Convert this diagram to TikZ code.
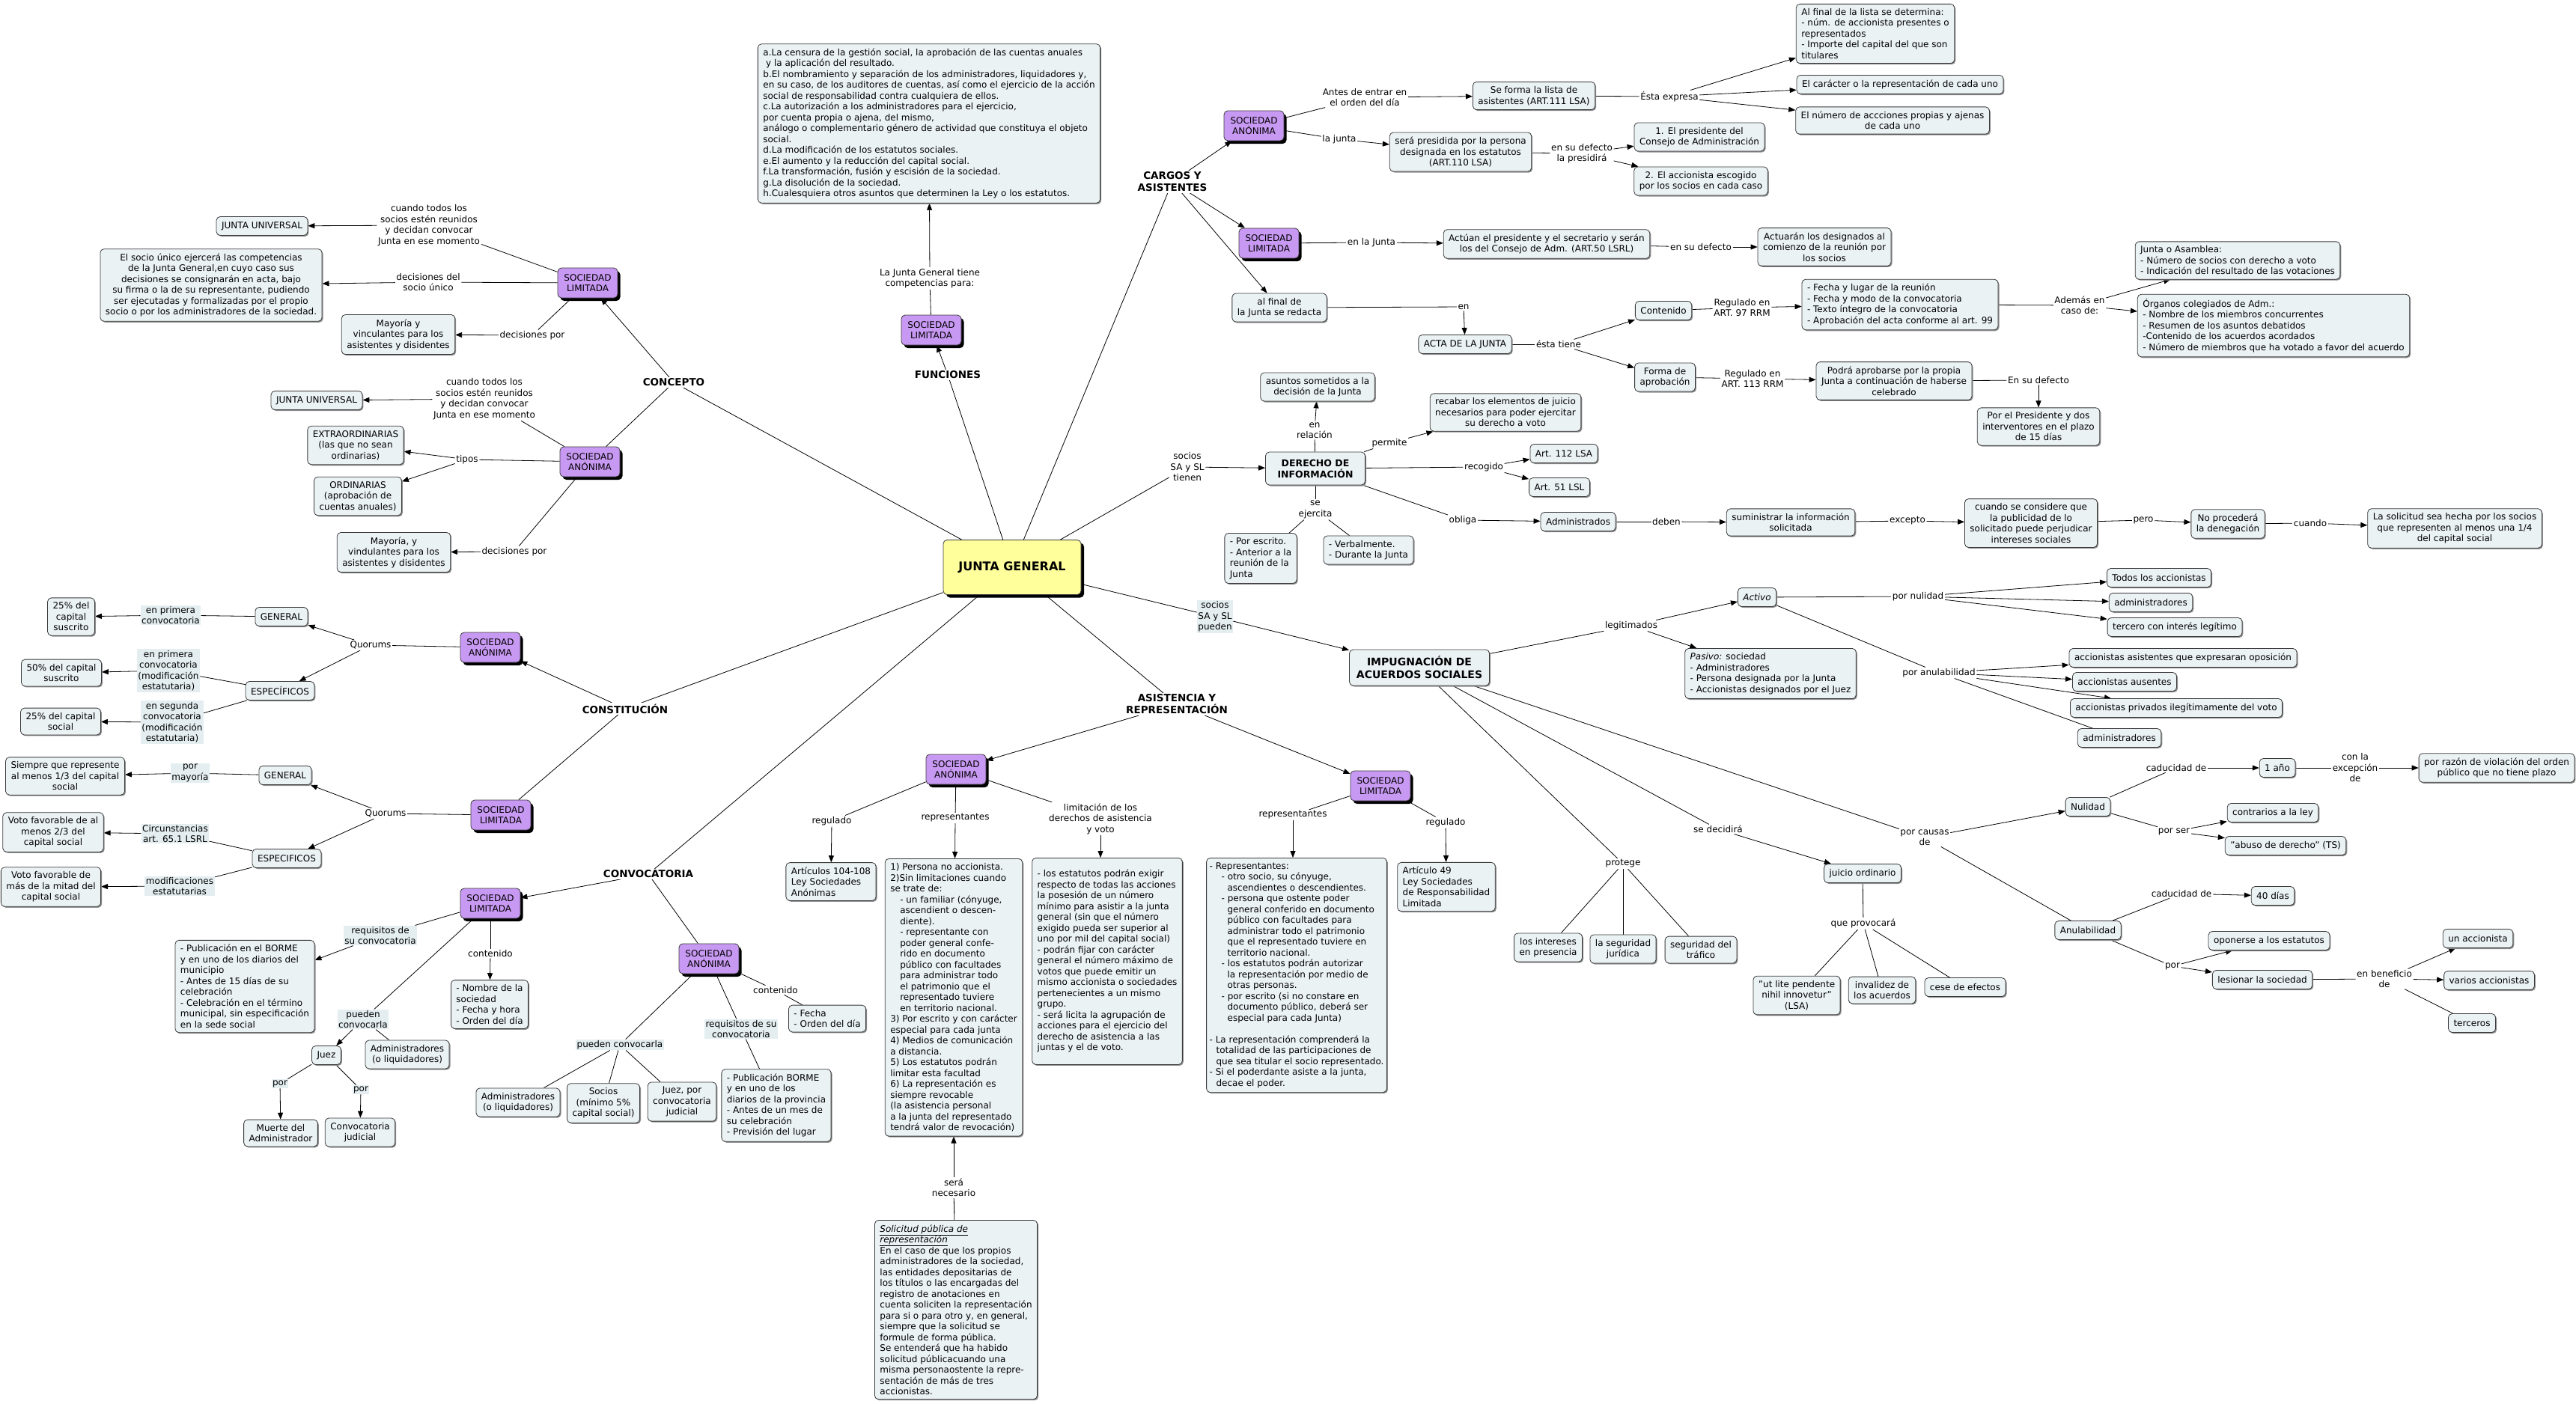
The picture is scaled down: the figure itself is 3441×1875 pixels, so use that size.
\documentclass[tikz,border=0pt]{standalone}
\usepackage{fontspec}
\setmainfont{DejaVu Sans}
\usepackage{tikz}
\usetikzlibrary{arrows.meta, shadows, backgrounds, positioning}
\definecolor{cajafondo}{HTML}{EBF2F4}
\definecolor{lila}{HTML}{C899F2}
\definecolor{amarillo}{HTML}{FFFF9C}
\definecolor{enlacefondo}{HTML}{E4EEF1}
\definecolor{borde}{HTML}{3A3A3A}
\newcommand{\sangria}[1]{\hspace*{#1pt}}
\tikzset{
	texto/.style={font=\fontsize{12}{14.5}\selectfont}
}
\tikzset{
	cajabase/.style={texto, draw=borde, line width=0.8pt, fill=cajafondo, rounded corners=5pt,
		align=center, inner xsep=7pt, inner ysep=6pt, minimum height=25pt},
	caja/.style={cajabase, drop shadow={shadow xshift=1.5pt, shadow yshift=-1.5pt, fill=black!45, opacity=1}},
	cajaizq/.style={caja, align=left},
	sociedad/.style={cajabase, fill=lila, minimum width=80pt, minimum height=40pt,
		drop shadow={shadow xshift=3.5pt, shadow yshift=-4pt, fill=black, opacity=1}},
	junta/.style={cajabase, fill=amarillo, font=\fontsize{16}{19}\selectfont\bfseries,
		minimum width=184pt, minimum height=73pt,
		drop shadow={shadow xshift=4pt, shadow yshift=-4pt, fill=black, opacity=1}}
}
\tikzset{
	enlace/.style={texto, align=center, fill=white, inner sep=1.5pt},
	enlaceazul/.style={enlace, fill=enlacefondo},
	rama/.style={font=\fontsize{13.5}{16}\selectfont\bfseries, align=center, fill=white, inner sep=1.5pt},
	linea/.style={line width=0.8pt, draw=black},
	flecha/.style={linea, -{Triangle[length=9pt, width=7pt]}}
}

\begin{document}
\begin{tikzpicture}[x=1pt, y=-1pt]
\useasboundingbox (0,0) rectangle (3441,1875);

\node[junta] (jg) at (1352,758) {JUNTA GENERAL};

% concepto
\node[rama] (conc) at (900,511) {CONCEPTO};
\node[sociedad] (slc) at (785,378) {SOCIEDAD\\LIMITADA};
\node[sociedad] (sac) at (788,617) {SOCIEDAD\\ANÓNIMA};
\node[enlace] (esl1) at (573,301) {cuando todos los\\socios estén reunidos\\y decidan convocar\\Junta en ese momento};
\node[caja] (ju1) at (350,302) {JUNTA UNIVERSAL};
\node[enlace] (esl2) at (572,377) {decisiones del\\socio único};
\node[caja] (socu) at (282,381) {El socio único ejercerá las competencias\\de la Junta General,en cuyo caso sus\\decisiones se consignarán en acta, bajo\\su firma o la de su representante, pudiendo\\ser ejecutadas y formalizadas por el propio\\socio o por los administradores de la sociedad.};
\node[enlace] (esl3) at (711,448) {decisiones por};
\node[caja] (may1) at (532,447) {Mayoría y\\vinculantes para los\\asistentes y disidentes};
\node[enlace] (esa1) at (647,533) {cuando todos los\\socios estén reunidos\\y decidan convocar\\Junta en ese momento};
\node[caja] (ju2) at (423,535) {JUNTA UNIVERSAL};
\node[enlace] (esa2) at (624,614) {tipos};
\node[caja] (extra) at (475,595) {EXTRAORDINARIAS\\(las que no sean\\ordinarias)};
\node[caja] (ordi) at (478,663) {ORDINARIAS\\(aprobación de\\cuentas anuales)};
\node[enlace] (esa3) at (687,737) {decisiones por};
\node[caja] (may2) at (526,738) {Mayoría, y\\vindulantes para los\\asistentes y disidentes};

% funciones
\node[rama] (fun) at (1266,501) {FUNCIONES};
\node[sociedad] (slf) at (1244,441) {SOCIEDAD\\LIMITADA};
\node[enlace] (efun) at (1242,372) {La Junta General tiene\\competencias para:};
\node[cajaizq] (funbox) at (1241,165) {a.La censura de la gestión social, la aprobación de las cuentas anuales\\\ y la aplicación del resultado.\\b.El nombramiento y separación de los administradores, liquidadores y,\\en su caso, de los auditores de cuentas, así como el ejercicio de la acción\\social de responsabilidad contra cualquiera de ellos.\\c.La autorización a los administradores para el ejercicio,\\por cuenta propia o ajena, del mismo,\\análogo o complementario género de actividad que constituya el objeto\\social.\\d.La modificación de los estatutos sociales.\\e.El aumento y la reducción del capital social.\\f.La transformación, fusión y escisión de la sociedad.\\g.La disolución de la sociedad.\\h.Cualesquiera otros asuntos que determinen la Ley o los estatutos.};

% cargos y asistentes
\node[rama] (carg) at (1566,243) {CARGOS Y\\ASISTENTES};
\node[sociedad] (sag) at (1675,168) {SOCIEDAD\\ANÓNIMA};
\node[sociedad] (slg) at (1695,325) {SOCIEDAD\\LIMITADA};
\node[caja] (alfin) at (1709,411) {al final de\\la Junta se redacta};
\node[enlace] (eant) at (1823,130) {Antes de entrar en\\el orden del día};
\node[caja] (lista) at (2049,128) {Se forma la lista de\\asistentes (ART.111 LSA)};
\node[enlace] (eexp) at (2230,129) {Ésta expresa};
\node[cajaizq] (alf) at (2505,45) {Al final de la lista se determina:\\- núm. de accionista presentes o\\representados\\- Importe del capital del que son\\titulares};
\node[caja] (carac) at (2538,113) {El carácter o la representación de cada uno};
\node[caja] (numac) at (2528,161) {El número de accciones propias y ajenas\\de cada uno};
\node[enlace] (elj) at (1789,186) {la junta};
\node[caja] (presi) at (1951,203) {será presidida por la persona\\designada en los estatutos\\(ART.110 LSA)};
\node[enlace] (edef) at (2113,205) {en su defecto\\la presidirá};
\node[caja] (pres1) at (2270,183) {1. El presidente del\\Consejo de Administración};
\node[caja] (pres2) at (2272,242) {2. El accionista escogido\\por los socios en cada caso};
\node[enlace] (eenj) at (1832,324) {en la Junta};
\node[caja] (actuan) at (2066,326) {Actúan el presidente y el secretario y serán\\los del Consejo de Adm. (ART.50 LSRL)};
\node[enlace] (edef2) at (2272,330) {en su defecto};
\node[caja] (actuar) at (2437,330) {Actuarán los designados al\\comienzo de la reunión por\\los socios};
\node[enlace] (een) at (1955,410) {en};
\node[caja] (acta) at (1957,460) {ACTA DE LA JUNTA};
\node[enlace] (etiene) at (2082,460) {ésta tiene};
\node[caja] (cont) at (2222,415) {Contenido};
\node[enlace] (er97) at (2327,411) {Regulado en\\ART. 97 RRM};
\node[cajaizq] (fecha) at (2538,407) {- Fecha y lugar de la reunión\\- Fecha y modo de la convocatoria\\- Texto íntegro de la convocatoria\\- Aprobación del acta conforme al art. 99};
\node[enlace] (eade) at (2778,408) {Además en\\caso de:};
\node[cajaizq] (jasam) at (2989,348) {Junta o Asamblea:\\- Número de socios con derecho a voto\\- Indicación del resultado de las votaciones};
\node[cajaizq] (organ) at (3037,435) {Órganos colegiados de Adm.:\\- Nombre de los miembros concurrentes\\- Resumen de los asuntos debatidos\\-Contenido de los acuerdos acordados\\- Número de miembros que ha votado a favor del acuerdo};
\node[caja] (forma) at (2224,504) {Forma de\\aprobación};
\node[enlace] (er113) at (2341,506) {Regulado en\\ART. 113 RRM};
\node[caja] (podra) at (2530,509) {Podrá aprobarse por la propia\\Junta a continuación de haberse\\celebrado};
\node[enlace] (eensu) at (2723,508) {En su defecto};
\node[caja] (porpres) at (2723,570) {Por el Presidente y dos\\interventores en el plazo\\de 15 días};

% derecho de informacion
\node[enlace] (etien) at (1586,624) {socios\\SA y SL\\tienen};
\node[caja, font=\fontsize{12.5}{15}\selectfont\bfseries, minimum width=133pt, minimum height=44pt] (der) at (1757,626) {DERECHO DE\\INFORMACIÓN};
\node[enlace] (erel) at (1756,575) {en\\relación};
\node[caja] (asun) at (1760,517) {asuntos sometidos a la\\decisión de la Junta};
\node[enlace] (eperm) at (1856,592) {permite};
\node[caja] (recab) at (2011,551) {recabar los elementos de juicio\\necesarios para poder ejercitar\\su derecho a voto};
\node[enlace] (erec) at (1982,624) {recogido};
\node[caja] (a112) at (2089,606) {Art. 112 LSA};
\node[caja] (a51) at (2083,651) {Art. 51 LSL};
\node[enlace] (eejer) at (1757,681) {se\\ejercita};
\node[cajaizq] (escr) at (1684,746) {- Por escrito.\\- Anterior a la\\reunión de la\\Junta};
\node[cajaizq] (verb) at (1828,735) {- Verbalmente.\\- Durante la Junta};
\node[enlace] (eobl) at (1954,695) {obliga};
\node[caja] (admd) at (2108,697) {Administrados};
\node[enlace] (edeb) at (2226,697) {deben};
\node[caja] (sumi) at (2392,698) {suministrar la información\\solicitada};
\node[enlace] (eexc) at (2548,696) {excepto};
\node[caja] (cuan) at (2713,699) {cuando se considere que\\la publicidad de lo\\solicitado puede perjudicar\\intereses sociales};
\node[enlace] (epero) at (2863,695) {pero};
\node[caja] (noproc) at (2976,700) {No procederá\\la denegación};
\node[enlace] (ecuan) at (3086,699) {cuando};
\node[caja] (solic) at (3279,706) {La solicitud sea hecha por los socios\\que representen al menos una 1/4\\del capital social};

% impugnacion
\node[enlaceazul] (epued) at (1623,824) {socios\\SA y SL\\pueden};
\node[caja, font=\fontsize{14}{17}\selectfont\bfseries, minimum width=187pt, minimum height=48pt] (imp) at (1896,892) {IMPUGNACIÓN DE\\ACUERDOS SOCIALES};
\node[enlace] (eleg) at (2179,836) {legitimados};
\node[caja] (act) at (2347,798) {\textit{Activo}};
\node[cajaizq] (pas) at (2365,900) {\textit{Pasivo:} sociedad\\- Administradores\\- Persona designada por la Junta\\- Accionistas designados por el Juez};
\node[enlace] (enul) at (2562,797) {por nulidad};
\node[caja] (tod) at (2884,772) {Todos los accionistas};
\node[caja] (adm1) at (2873,805) {administradores};
\node[caja] (terc) at (2905,838) {tercero con interés legítimo};
\node[enlace] (eanu) at (2590,899) {por anulabilidad};
\node[caja] (asis) at (2916,879) {accionistas asistentes que expresaran oposición};
\node[caja] (ause) at (2838,911) {accionistas ausentes};
\node[caja] (priv) at (2907,946) {accionistas privados ilegítimamente del voto};
\node[caja] (adm2) at (2831,986) {administradores};
\node[enlace] (eprot) at (2168,1154) {protege};
\node[caja] (int) at (2068,1266) {los intereses\\en presencia};
\node[caja] (segj) at (2168,1268) {la seguridad\\jurídica};
\node[caja] (segt) at (2272,1269) {seguridad del\\tráfico};
\node[enlace] (edec) at (2295,1108) {se decidirá};
\node[caja] (juic) at (2488,1167) {juicio ordinario};
\node[enlace] (eprov) at (2489,1234) {que provocará};
\node[caja] (utl) at (2400,1330) {"ut lite pendente\\nihil innovetur"\\(LSA)};
\node[caja] (inv) at (2514,1323) {invalidez de\\los acuerdos};
\node[caja] (cese) at (2625,1319) {cese de efectos};
\node[enlace] (ecaus) at (2571,1119) {por causas\\de};
\node[caja] (nul) at (2789,1078) {Nulidad};
\node[enlace] (ecad1) at (2907,1026) {caducidad de};
\node[caja] (uno) at (3042,1026) {1 año};
\node[enlace] (eexc2) at (3146,1026) {con la\\excepción\\de};
\node[caja] (razon) at (3335,1026) {por razón de violación del orden\\público que no tiene plazo};
\node[enlace] (eser) at (2904,1111) {por ser};
\node[caja] (contr) at (3036,1086) {contrarios a la ley};
\node[caja] (abuso) at (3053,1130) {"abuso de derecho" (TS)};
\node[caja] (anu) at (2789,1243) {Anulabilidad};
\node[enlace] (ecad2) at (2914,1194) {caducidad de};
\node[caja] (cuar) at (3036,1197) {40 días};
\node[enlace] (epor) at (2902,1291) {por};
\node[caja] (opon) at (3031,1257) {oponerse a los estatutos};
\node[caja] (lesi) at (3022,1309) {lesionar la sociedad};
\node[enlace] (eben) at (3185,1308) {en beneficio\\de};
\node[caja] (unac) at (3310,1254) {un accionista};
\node[caja] (vari) at (3325,1310) {varios accionistas};
\node[caja] (terc2) at (3302,1367) {terceros};

% asistencia y representacion
\node[rama] (asi) at (1572,941) {ASISTENCIA Y\\REPRESENTACIÓN};
\node[sociedad] (saa) at (1277,1028) {SOCIEDAD\\ANÓNIMA};
\node[sociedad] (sla) at (1844,1050) {SOCIEDAD\\LIMITADA};
\node[enlace] (ereg1) at (1111,1097) {regulado};
\node[cajaizq] (art104) at (1110,1178) {Artículos 104-108\\Ley Sociedades\\Anónimas};
\node[enlace] (erep1) at (1276,1093) {representantes};
\node[cajaizq, anchor=north] (repsa) at (1274,1147) {1) Persona no accionista.\\2)Sin limitaciones cuando\\se trate de:\\\sangria{13}- un familiar (cónyuge,\\\sangria{13}ascendient o descen-\\\sangria{13}diente).\\\sangria{13}- representante con\\\sangria{13}poder general confe-\\\sangria{13}rido en documento\\\sangria{13}público con facultades\\\sangria{13}para administrar todo\\\sangria{13}el patrimonio que el\\\sangria{13}representado tuviere\\\sangria{13}en territorio nacional.\\3) Por escrito y con carácter\\especial para cada junta\\4) Medios de comunicación\\a distancia.\\5) Los estatutos podrán\\limitar esta facultad\\6) La representación es\\siempre revocable\\(la asistencia personal\\a la junta del representado\\tendrá valor de revocación)};
\node[enlace] (elim) at (1470,1094) {limitación de los\\derechos de asistencia\\y voto};
\node[cajaizq, anchor=north, minimum height=276pt] (limb) at (1479,1146) {- los estatutos podrán exigir\\respecto de todas las acciones\\la posesión de un número\\mínimo para asistir a la junta\\general (sin que el número\\exigido pueda ser superior al\\uno por mil del capital social)\\- podrán fijar con carácter\\general el número máximo de\\votos que puede emitir un\\mismo accionista o sociedades\\pertenecientes a un mismo\\grupo.\\- será licita la agrupación de\\acciones para el ejercicio del\\derecho de asistencia a las\\juntas y el de voto.};
\node[enlace] (enec) at (1274,1587) {será\\necesario};
\node[cajaizq, anchor=north] (solpub) at (1277,1630) {\underline{\textit{Solicitud pública de}}\\\underline{\textit{representación}}\\En el caso de que los propios\\administradores de la sociedad,\\las entidades depositarias de\\los títulos o las encargadas del\\registro de anotaciones en\\cuenta soliciten la representación\\para si o para otro y, en general,\\siempre que la solicitud se\\formule de forma pública.\\Se entenderá que ha habido\\solicitud públicacuando una\\misma personaostente la repre-\\sentación de más de tres\\accionistas.};
\node[enlace] (erep2) at (1727,1089) {representantes};
\node[cajaizq, anchor=north, inner xsep=4pt] (repsl) at (1732,1146) {- Representantes:\\\sangria{16}- otro socio, su cónyuge,\\\sangria{24}ascendientes o descendientes.\\\sangria{16}- persona que ostente poder\\\sangria{24}general conferido en documento\\\sangria{24}público con facultades para\\\sangria{24}administrar todo el patrimonio\\\sangria{24}que el representado tuviere en\\\sangria{24}territorio nacional.\\\sangria{16}- los estatutos podrán autorizar\\\sangria{24}la representación por medio de\\\sangria{24}otras personas.\\\sangria{16}- por escrito (si no constare en\\\sangria{24}documento público, deberá ser\\\sangria{24}especial para cada Junta)\\\mbox{}\\- La representación comprenderá la\\\sangria{9}totalidad de las participaciones de\\\sangria{9}que sea titular el socio representado.\\- Si el poderdante asiste a la junta,\\\sangria{9}decae el poder.};
\node[enlace] (ereg2) at (1931,1099) {regulado};
\node[cajaizq] (art49) at (1932,1185) {Artículo 49\\Ley Sociedades\\de Responsabilidad\\Limitada};

% constitucion
\node[rama] (const) at (835,947) {CONSTITUCIÓN};
\node[sociedad] (sacn) at (655,865) {SOCIEDAD\\ANÓNIMA};
\node[sociedad] (slcn) at (669,1089) {SOCIEDAD\\LIMITADA};
\node[enlace] (eq1) at (495,862) {Quorums};
\node[caja] (gen1) at (376,824) {GENERAL};
\node[caja] (esp1) at (374,923) {ESPECÍFICOS};
\node[enlaceazul] (epc1) at (228,822) {en primera\\convocatoria};
\node[caja] (p25s) at (95,824) {25\% del\\capital\\suscrito};
\node[enlaceazul] (epc2) at (225,896) {en primera\\convocatoria\\(modificación\\estatutaria)};
\node[caja] (p50) at (82,899) {50\% del capital\\suscrito};
\node[enlaceazul] (esc) at (230,965) {en segunda\\convocatoria\\(modificación\\estatutaria)};
\node[caja] (p25c) at (81,964) {25\% del capital\\social};
\node[enlace] (eq2) at (515,1087) {Quorums};
\node[caja] (gen2) at (381,1036) {GENERAL};
\node[caja] (esp2) at (383,1147) {ESPECIFICOS};
\node[enlaceazul] (emay) at (254,1033) {por\\mayoría};
\node[caja] (siem) at (87,1037) {Siempre que represente\\al menos 1/3 del capital\\social};
\node[enlaceazul] (ecirc) at (234,1114) {Circunstancias\\art. 65.1 LSRL};
\node[caja] (v23) at (71,1112) {Voto favorable de al\\menos 2/3 del\\capital social};
\node[enlaceazul] (emod) at (240,1184) {modificaciones\\estatutarias};
\node[caja] (vmit) at (68,1185) {Voto favorable de\\más de la mitad del\\capital social};

% convocatoria
\node[rama] (conv) at (866,1168) {CONVOCATORIA};
\node[sociedad] (slv) at (655,1207) {SOCIEDAD\\LIMITADA};
\node[sociedad] (sav) at (947,1281) {SOCIEDAD\\ANÓNIMA};
\node[enlaceazul] (ereq1) at (508,1250) {requisitos de\\su convocatoria};
\node[cajaizq] (pubsl) at (327,1318) {- Publicación en el BORME\\y en uno de los diarios del\\municipio\\- Antes de 15 días de su\\celebración\\- Celebración en el término\\municipal, sin especificación\\en la sede social};
\node[enlace] (econt1) at (655,1274) {contenido};
\node[cajaizq] (nomb) at (654,1342) {- Nombre de la\\sociedad\\- Fecha y hora\\- Orden del día};
\node[enlaceazul] (epc) at (485,1362) {pueden\\convocarla};
\node[caja] (juez) at (436,1410) {Juez};
\node[caja] (admsl) at (544,1409) {Administradores\\(o liquidadores)};
\node[enlaceazul] (epor1) at (374,1448) {por};
\node[enlaceazul] (epor2) at (482,1456) {por};
\node[caja] (muer) at (375,1514) {Muerte del\\Administrador};
\node[caja] (cjud) at (481,1513) {Convocatoria\\judicial};
\node[enlace] (econt2) at (1036,1323) {contenido};
\node[cajaizq] (fech) at (1105,1361) {- Fecha\\- Orden del día};
\node[enlaceazul] (ereq2) at (990,1375) {requisitos de su\\convocatoria};
\node[cajaizq] (pubsa) at (1037,1477) {- Publicación BORME\\y en uno de los\\diarios de la provincia\\- Antes de un mes de\\su celebración\\- Previsión del lugar};
\node[enlaceazul] (epcb) at (828,1396) {pueden convocarla};
\node[caja] (admsa) at (692,1473) {Administradores\\(o liquidadores)};
\node[caja] (soc5) at (806,1474) {Socios\\(mínimo 5\%\\capital social)};
\node[caja] (juezc) at (911,1472) {Juez, por\\convocatoria\\judicial};

\begin{scope}[on background layer]
\foreach \a/\b in {jg/conc, conc/sac, slc/esl1, slc/esl2, slc/esl3, sac/esa1, sac/esa2, sac/esa3,
  jg/fun, slf/efun,
  jg/carg, sag/eant, lista/eexp, sag/elj, presi/edef, slg/eenj, actuan/edef2, alfin/een,
  acta/etiene, cont/er97, fecha/eade, forma/er113, podra/eensu,
  jg/etien, der/erel, der/eperm, der/erec, der/eejer, eejer/escr, eejer/verb, der/eobl,
  admd/edeb, sumi/eexc, cuan/epero, noproc/ecuan,
  jg/epued, imp/eleg, act/enul, act/eanu, eanu/adm2, imp/eprot, eprot/int, eprot/segj, eprot/segt,
  imp/edec, juic/eprov, eprov/utl, eprov/inv, eprov/cese, imp/ecaus, ecaus/anu, nul/ecad1,
  uno/eexc2, nul/eser, anu/ecad2, anu/epor, lesi/eben, eben/terc2,
  jg/asi, saa/ereg1, saa/erep1, saa/elim, solpub/enec, sla/erep2, sla/ereg2,
  jg/const, const/slcn, sacn/eq1, gen1/epc1, esp1/epc2, esp1/esc, slcn/eq2, gen2/emay, esp2/ecirc, esp2/emod,
  jg/conv, conv/sav, slv/ereq1, slv/econt1, slv/epc, epc/admsl, juez/epor1, juez/epor2,
  sav/econt2, econt2/fech, sav/ereq2, ereq2/pubsa, sav/epcb, epcb/admsa, epcb/soc5, epcb/juezc}
  \draw[linea] (\a) -- (\b);
\foreach \a/\b in {conc/slc, esl1/ju1, esl2/socu, esl3/may1, esa1/ju2, esa2/extra, esa2/ordi, esa3/may2,
  fun/slf, efun/funbox,
  carg/sag, carg/slg, carg/alfin, eant/lista, eexp/alf, eexp/carac, eexp/numac, elj/presi,
  edef/pres1, edef/pres2, eenj/actuan, edef2/actuar, een/acta, etiene/cont, etiene/forma,
  er97/fecha, eade/jasam, eade/organ, er113/podra, eensu/porpres,
  etien/der, erel/asun, eperm/recab, erec/a112, erec/a51, eobl/admd, edeb/sumi, eexc/cuan,
  epero/noproc, ecuan/solic,
  epued/imp, eleg/act, eleg/pas, enul/tod, enul/adm1, enul/terc, eanu/asis, eanu/ause, eanu/priv,
  edec/juic, ecaus/nul, ecad1/uno, eexc2/razon, eser/contr, eser/abuso, ecad2/cuar,
  epor/opon, epor/lesi, eben/unac, eben/vari,
  asi/saa, asi/sla, ereg1/art104, erep1/repsa, enec/repsa, ereg2/art49,
  const/sacn, eq1/gen1, eq1/esp1, epc1/p25s, epc2/p50, esc/p25c, eq2/gen2, eq2/esp2,
  emay/siem, ecirc/v23, emod/vmit,
  conv/slv, ereq1/pubsl, econt1/nomb, epc/juez, epor1/muer, epor2/cjud}
  \draw[flecha] (\a) -- (\b);
\draw[flecha] (elim) -- (elim |- limb.north);
\draw[flecha] (erep2) -- (erep2 |- repsl.north);
\end{scope}
\end{tikzpicture}
\end{document}
